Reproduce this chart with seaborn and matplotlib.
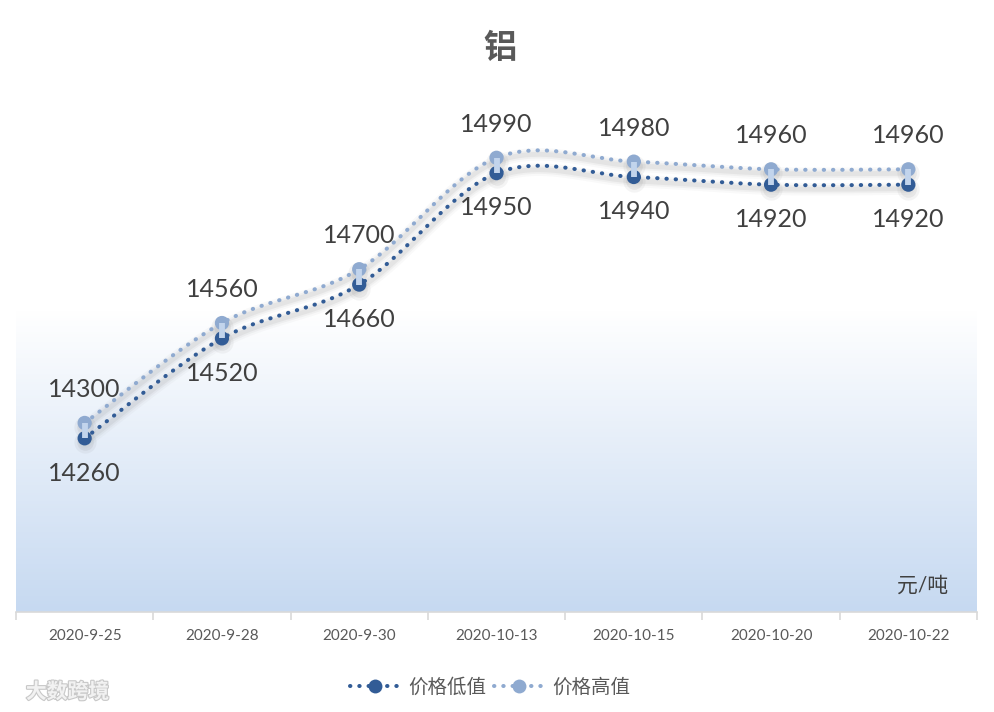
import numpy as np
import pandas as pd
import matplotlib
matplotlib.use("Agg")
import matplotlib.pyplot as plt
from matplotlib.lines import Line2D
from matplotlib.colors import LinearSegmentedColormap
from matplotlib.transforms import offset_copy
import matplotlib.patheffects as pe
import seaborn as sns

# ---- data -------------------------------------------------------------
dates = ["2020-9-25", "2020-9-28", "2020-9-30", "2020-10-13",
         "2020-10-15", "2020-10-20", "2020-10-22"]
low_price = [14260, 14520, 14660, 14950, 14940, 14920, 14920]
high_price = [14300, 14560, 14700, 14990, 14980, 14960, 14960]
series_names = ["价格低值", "价格高值"]
title_text = "铝"
unit_text = "元/吨"
watermark_text = "大数跨境"

# ---- style ------------------------------------------------------------
sns.set_theme(style="white")
plt.rcParams["font.family"] = ["Lato", "Noto Sans CJK SC", "DejaVu Sans"]

DARK = "#325c96"
LIGHT = "#8faad0"
HILO = "#c2d4ec"
TEXT = "#404040"
AXIS_TXT = "#595959"

df = pd.DataFrame({"date": dates, "pos": np.arange(len(dates)),
                   "low": low_price, "high": high_price})


def smooth_curve(xs, ys, n=40):
    """Cubic Bezier path through the points (Catmull-Rom style handles)."""
    pts = np.column_stack([xs, ys]).astype(float)
    ext = np.vstack([pts[0], pts, pts[-1]])
    out = []
    t = np.linspace(0, 1, n)[:, None]
    for i in range(len(pts) - 1):
        p0, p3 = ext[i + 1], ext[i + 2]
        c1 = p0 + (ext[i + 2] - ext[i]) / 6.0
        c2 = p3 - (ext[i + 3] - ext[i + 1]) / 6.0
        seg = ((1 - t) ** 3) * p0 + 3 * ((1 - t) ** 2) * t * c1 \
            + 3 * (1 - t) * t ** 2 * c2 + t ** 3 * p3
        out.append(seg if i == 0 else seg[1:])
    seg = np.vstack(out)
    return seg[:, 0], seg[:, 1]


fig = plt.figure(figsize=(9.94, 7.12), dpi=100)
ax = fig.add_axes([16 / 994, 100 / 712, 961 / 994, 538 / 712])

# gradient backdrop in the lower part of the plot area
cmap = LinearSegmentedColormap.from_list("bg", ["#c6d9f1", "#ffffff"])
grad = np.linspace(0, 1, 256)[:, None]
ax.imshow(grad, cmap=cmap, origin="lower", aspect="auto",
          extent=[0, 1, 0, 0.561], transform=ax.transAxes, zorder=0)

# soft drop shadows under the curves and markers
shadow_tr = offset_copy(ax.transData, fig=fig, x=0, y=-4, units="dots")
for col in ["low", "high"]:
    sx, sy = smooth_curve(df["pos"], df[col])
    for lw, a in [(9, 0.03), (6, 0.05), (3.5, 0.07)]:
        ax.plot(sx, sy, color="#505050", lw=lw, alpha=a,
                solid_capstyle="round", transform=shadow_tr, zorder=1)
    for ms, a in [(16, 0.06), (12, 0.08)]:
        ax.plot(df["pos"], df[col], ls="none", marker="o", ms=ms,
                color="#505050", alpha=a, mec="none",
                transform=shadow_tr, zorder=1)

# dotted smoothed series lines
dot_style = (0, (0.1, 2.2))
for col, c in [("high", LIGHT), ("low", DARK)]:
    sx, sy = smooth_curve(df["pos"], df[col])
    ax.plot(sx, sy, color=c, lw=2.9, ls=dot_style,
            dash_capstyle="round", zorder=3)

# markers
sns.scatterplot(data=df, x="pos", y="high", color=LIGHT, s=105,
                edgecolor="none", ax=ax, zorder=4, legend=False)
sns.scatterplot(data=df, x="pos", y="low", color=DARK, s=105,
                edgecolor="none", ax=ax, zorder=4, legend=False)

# high-low bars
ax.vlines(df["pos"], df["low"], df["high"], color=HILO, lw=4.2, zorder=5)

# value labels
for x, lo, hi in zip(df["pos"], df["low"], df["high"]):
    ax.annotate(f"{hi}", (x, hi), xytext=(0, 24), textcoords="offset points",
                ha="center", va="center", fontsize=18, color=TEXT, zorder=6)
    ax.annotate(f"{lo}", (x, lo), xytext=(0, -25), textcoords="offset points",
                ha="center", va="center", fontsize=18, color=TEXT, zorder=6)

ax.set_xlim(-0.5, len(dates) - 0.5)
ax.set_ylim(13808, 15208)

# axes decoration
for s in ["top", "left", "right"]:
    ax.spines[s].set_visible(False)
ax.spines["bottom"].set_color("#d9d9d9")
ax.spines["bottom"].set_linewidth(1.2)
ax.set_yticks([])
ax.set_xticks(np.arange(len(dates) + 1) - 0.5)
ax.set_xticklabels([])
ax.set_xticks(np.arange(len(dates)), minor=True)
ax.set_xticklabels(dates, minor=True)
ax.tick_params(axis="x", which="major", direction="out", length=6,
               width=1.2, color="#d9d9d9", bottom=True)
ax.tick_params(axis="x", which="minor", length=0, pad=12,
               labelsize=11, labelcolor=AXIS_TXT)
ax.set_xlabel("")
ax.set_ylabel("")

ax.text(0.97, 0.048, unit_text, transform=ax.transAxes, ha="right",
        va="center", fontsize=15, color=TEXT, zorder=6)

fig.text(0.503, 0.934, title_text, ha="center", va="center", fontsize=24,
         fontweight="bold", color=AXIS_TXT)

handles = [
    Line2D([], [], color=DARK, lw=2.9, ls=dot_style, dash_capstyle="round",
           marker="o", ms=10, mec="none"),
    Line2D([], [], color=LIGHT, lw=2.9, ls=dot_style, dash_capstyle="round",
           marker="o", ms=10, mec="none"),
]
fig.legend(handles, series_names, loc="center", bbox_to_anchor=(0.493, 0.036),
           ncol=2, frameon=False, fontsize=14, handlelength=2.6,
           columnspacing=0.4, handletextpad=0.4, labelcolor=AXIS_TXT)

wm = fig.text(0.068, 0.028, watermark_text, ha="center", va="center",
              fontsize=15, color="#f2f2f2", fontweight="bold")
wm.set_path_effects([pe.withStroke(linewidth=1.6, foreground="#c8c8c8")])

fig.savefig("out.png", dpi=100)
